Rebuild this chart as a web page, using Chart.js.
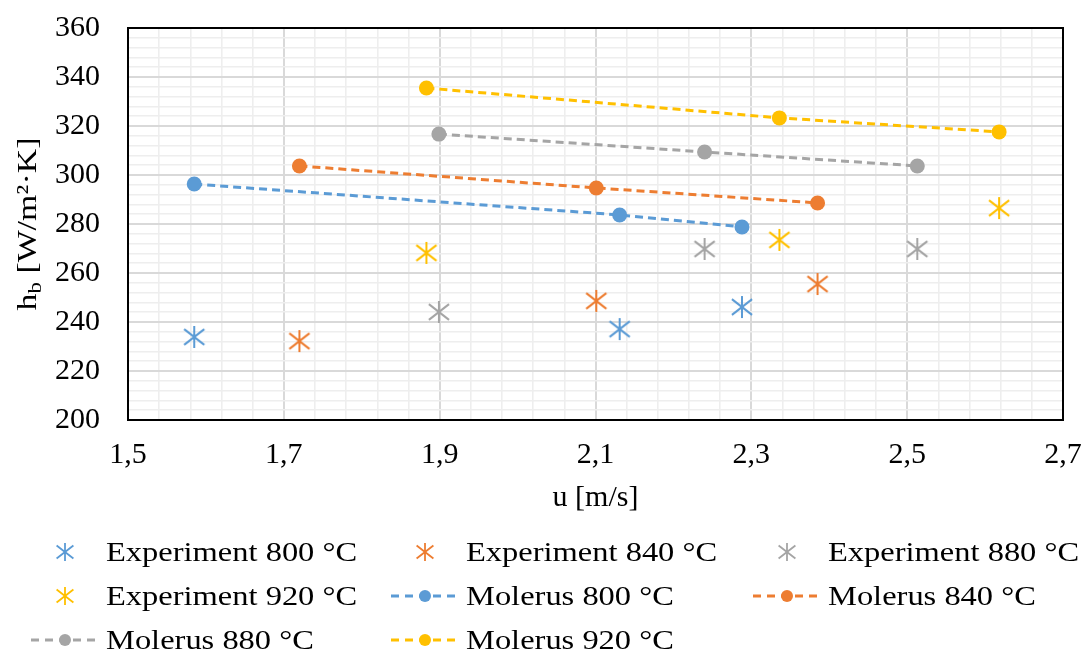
<!DOCTYPE html>
<html>
<head>
<meta charset="utf-8">
<script src="https://cdn.jsdelivr.net/npm/chart.js@4.4.0/dist/chart.umd.min.js"></script>
<style>
  body { margin: 0; background: #fff; }
  #wrap { position: relative; width: 1085px; height: 653px; }
  #legend { position: absolute; left: 0; top: 530px; width: 1085px; font-family: "Liberation Serif", "Times New Roman", serif; }
  .item { position: absolute; height: 44px; display: flex; align-items: center; }
  .item span { font-size: 28px; color: #000; white-space: nowrap; transform: scaleX(1.16); transform-origin: left center; margin-left: 6px; }
</style>
</head>
<body>
<div id="wrap">
  <canvas id="chart" width="1085" height="653"></canvas>
  <div id="legend"></div>
</div>
<script>
// u [m/s] per temperature
const u800 = [1.585, 2.131, 2.288];
const u840 = [1.72, 2.101, 2.385];
const u880 = [1.899, 2.24, 2.513];
const u920 = [1.883, 2.336, 2.618];

// h_b [W/m2K]
const hExp800 = [233.9, 237.1, 246.1];
const hExp840 = [232.2, 248.6, 255.5];
const hExp880 = [244.1, 269.8, 269.8];
const hExp920 = [268.2, 273.5, 286.5];

const hMol800 = [296.3, 283.7, 278.8];
const hMol840 = [303.7, 294.7, 288.6];
const hMol880 = [316.7, 309.4, 303.7];
const hMol920 = [335.5, 323.3, 317.6];

const seriesLabels = ['Experiment 800 °C', 'Experiment 840 °C', 'Experiment 880 °C', 'Experiment 920 °C',
    'Molerus 800 °C', 'Molerus 840 °C', 'Molerus 880 °C', 'Molerus 920 °C'];
const colors = ['#5B9BD5', '#ED7D31', '#A5A5A5', '#FFC000'];

const xTicks = { min: 1.5, max: 2.7, major: 0.2, minor: 0.04 };
const yTicks = { min: 200, max: 360, major: 20, minor: 4 };

const toPoints = (xs, ys) => xs.map((x, i) => ({ x: x, y: ys[i] }));

// Excel style asterisk marker: X plus vertical bar
const starMarker = (color, size, lw) => {
    const c = document.createElement('canvas');
    c.width = size;
    c.height = size;
    const g = c.getContext('2d');
    g.strokeStyle = color;
    g.lineWidth = lw;
    const m = size / 2, d = size * 0.42;
    g.beginPath();
    g.moveTo(m - d, m - d * 0.78); g.lineTo(m + d, m + d * 0.78);
    g.moveTo(m + d, m - d * 0.78); g.lineTo(m - d, m + d * 0.78);
    g.moveTo(m, 1); g.lineTo(m, size - 1);
    g.stroke();
    return c;
};

const us = [u800, u840, u880, u920];
const hExp = [hExp800, hExp840, hExp880, hExp920];
const hMol = [hMol800, hMol840, hMol880, hMol920];

const datasets = [];
hExp.forEach((h, i) => {
    datasets.push({
        label: seriesLabels[i],
        data: toPoints(us[i], h),
        showLine: false,
        pointStyle: starMarker(colors[i], 24, 2),
        borderColor: colors[i],
        backgroundColor: colors[i],
        kind: 'exp'
    });
});
hMol.forEach((h, i) => {
    datasets.push({
        label: seriesLabels[4 + i],
        data: toPoints(us[i], h),
        showLine: true,
        borderColor: colors[i],
        backgroundColor: colors[i],
        borderWidth: 3,
        borderDash: [8, 5],
        pointRadius: 7.5,
        pointBorderWidth: 0,
        kind: 'mol'
    });
});

const isMajor = (v, t) => Math.abs((v - t.min) / t.major - Math.round((v - t.min) / t.major)) < 1e-6;
const tickFont = { family: '"Liberation Serif", "Times New Roman", serif', size: 30 };

const frame = {
    id: 'frame',
    beforeDatasetsDraw(chart) {
        const { ctx, chartArea: a } = chart;
        ctx.save();
        ctx.strokeStyle = '#000';
        ctx.lineWidth = 2;
        ctx.strokeRect(a.left, a.top, a.right - a.left, a.bottom - a.top);
        ctx.restore();
    },
    afterDraw(chart) {
        // y title with subscript
        const ctx = chart.ctx;
        const a = chart.chartArea;
        const fam = '"Liberation Serif", "Times New Roman", serif';
        const big = '28px ' + fam, small = '19px ' + fam;
        const parts = [['h', big, 0], ['b', small, 7], [' [W/m²·K]', big, 0]];
        ctx.save();
        let w = 0;
        parts.forEach(p => { ctx.font = p[1]; w += ctx.measureText(p[0]).width; });
        const target = 173;
        ctx.translate(29, (a.top + a.bottom) / 2);
        ctx.rotate(-Math.PI / 2);
        ctx.scale(target / w, 1);
        ctx.fillStyle = '#000';
        ctx.textBaseline = 'middle';
        let x = -w / 2;
        parts.forEach(p => {
            ctx.font = p[1];
            ctx.fillText(p[0], x, p[2]);
            x += ctx.measureText(p[0]).width;
        });
        ctx.restore();
    }
};

const chart = new Chart(document.getElementById('chart'), {
    type: 'scatter',
    data: { datasets: datasets },
    options: {
        responsive: false,
        animation: false,
        layout: { padding: { left: 0, top: 28, right: 22, bottom: 133 } },
        plugins: { legend: { display: false }, tooltip: { enabled: false } },
        scales: {
            x: {
                type: 'linear',
                min: xTicks.min,
                max: xTicks.max,
                afterFit: (s) => { s.height = 100; s.paddingLeft = 0; s.paddingRight = 0; },
                border: { display: false },
                grid: {
                    drawTicks: false,
                    color: (c) => isMajor(c.tick.value, xTicks) ? '#D9D9D9' : '#EEEEEE',
                    lineWidth: (c) => isMajor(c.tick.value, xTicks) ? 2 : 1.6
                },
                ticks: {
                    stepSize: xTicks.minor,
                    autoSkip: false,
                    maxRotation: 0,
                    padding: 17,
                    color: '#000',
                    font: tickFont,
                    callback: (v) => isMajor(v, xTicks) ? v.toFixed(1).replace('.', ',') : ''
                },
                title: {
                    display: true,
                    text: 'u [m/s]',
                    color: '#000',
                    font: { family: tickFont.family, size: 30 }
                }
            },
            y: {
                type: 'linear',
                min: yTicks.min,
                max: yTicks.max,
                afterFit: (s) => { s.width = 128; s.paddingTop = 0; s.paddingBottom = 0; },
                border: { display: false },
                grid: {
                    drawTicks: false,
                    color: (c) => isMajor(c.tick.value, yTicks) ? '#D9D9D9' : '#EEEEEE',
                    lineWidth: (c) => isMajor(c.tick.value, yTicks) ? 2 : 1.6
                },
                ticks: {
                    stepSize: yTicks.minor,
                    autoSkip: false,
                    padding: 28,
                    color: '#000',
                    font: tickFont,
                    callback: (v) => isMajor(v, yTicks) ? String(v) : ''
                }
            }
        }
    },
    plugins: [frame]
});

// HTML legend in Excel-like columns
const legendCols = [30, 390, 752];
const legendEl = document.getElementById('legend');
chart.data.datasets.forEach((ds, k) => {
    const item = document.createElement('div');
    item.className = 'item';
    item.style.left = legendCols[k % 3] + 'px';
    item.style.top = (Math.floor(k / 3) * 44) + 'px';
    const c = document.createElement('canvas');
    c.width = 70; c.height = 24;
    const g = c.getContext('2d');
    if (ds.kind === 'exp') {
        g.drawImage(starMarker(ds.borderColor, 20, 1.8), 35 - 10, 12 - 10);
    } else {
        g.strokeStyle = ds.borderColor;
        g.lineWidth = 3;
        g.setLineDash([8, 6]);
        g.beginPath(); g.moveTo(1, 12); g.lineTo(69, 12); g.stroke();
        g.fillStyle = ds.borderColor;
        g.beginPath(); g.arc(35, 12, 6, 0, Math.PI * 2); g.fill();
    }
    item.appendChild(c);
    const t = document.createElement('span');
    t.textContent = ds.label;
    item.appendChild(t);
    legendEl.appendChild(item);
});
</script>
</body>
</html>
